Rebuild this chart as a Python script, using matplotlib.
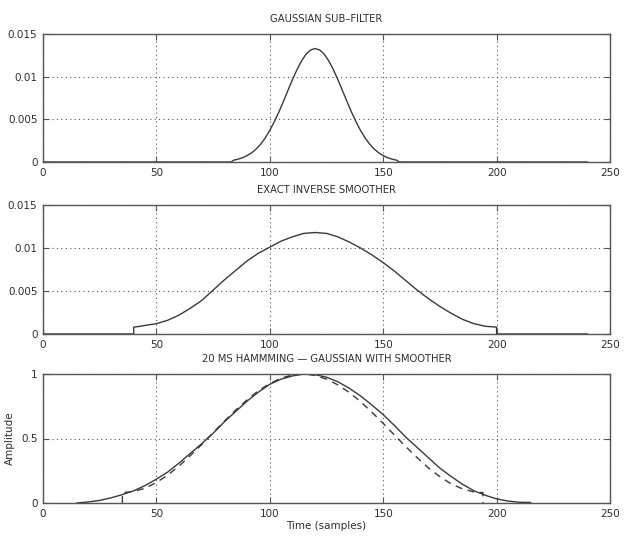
import matplotlib
matplotlib.use("Agg")
import matplotlib.pyplot as plt

# ---- data ----
gauss_x = [0, 83, 84, 86, 88, 90, 92, 94, 96, 98, 100, 102, 104, 106, 108, 110, 112, 114,
           116, 118, 120, 122, 124, 126, 128, 130, 132, 134, 136, 138, 140, 142, 144, 146,
           148, 150, 152, 154, 156, 157, 240]
gauss_y = [0, 0, 0.00021, 0.00033, 0.00050, 0.00075, 0.00108, 0.00153, 0.00210, 0.00283,
           0.00370, 0.00472, 0.00586, 0.00710, 0.00839, 0.00966, 0.01084, 0.01185, 0.01264,
           0.01313, 0.0133, 0.01313, 0.01264, 0.01185, 0.01084, 0.00966, 0.00839, 0.00710,
           0.00586, 0.00472, 0.00370, 0.00283, 0.00210, 0.00153, 0.00108, 0.00075, 0.00050,
           0.00033, 0.00021, 0, 0]

inv_x = [0, 40, 40, 43, 45, 50, 55, 60, 65, 70, 75, 80, 85, 90, 95, 100, 105, 110, 115,
         120, 125, 130, 135, 140, 145, 150, 155, 160, 165, 170, 175, 180, 185, 190, 195,
         200, 200, 240]
inv_y = [0, 0, 0.0008, 0.0009, 0.001, 0.0012, 0.0016, 0.0022, 0.003, 0.0039, 0.0051,
         0.0063, 0.0074, 0.0085, 0.0094, 0.0101, 0.0108, 0.0113, 0.0117, 0.0118, 0.0117,
         0.0113, 0.0107, 0.0100, 0.0092, 0.0083, 0.0073, 0.0062, 0.0051, 0.0041, 0.0032,
         0.0024, 0.0017, 0.0012, 0.0009, 0.0008, 0, 0]

smooth_x = [15, 20, 25, 30, 35, 40, 45, 50, 55, 60, 65, 70, 75, 80, 85, 90, 95, 100, 105,
            110, 115, 120, 125, 130, 135, 140, 145, 150, 155, 160, 165, 170, 175, 180,
            185, 190, 195, 200, 205, 210, 215]
smooth_y = [0.0, 0.008, 0.02, 0.04, 0.065, 0.095, 0.135, 0.185, 0.24, 0.31, 0.385, 0.46,
            0.54, 0.63, 0.71, 0.79, 0.86, 0.92, 0.96, 0.985, 1.0, 0.995, 0.975, 0.94,
            0.89, 0.83, 0.76, 0.685, 0.60, 0.51, 0.43, 0.35, 0.27, 0.205, 0.145, 0.095,
            0.06, 0.032, 0.015, 0.006, 0.004]

hamm_x = [35, 35, 40, 45, 50, 55, 60, 65, 70, 75, 80, 85, 90, 95, 100, 105, 110, 115,
          120, 125, 130, 135, 140, 145, 150, 155, 160, 165, 170, 175, 180, 185, 190, 194, 194]
hamm_y = [0, 0.080, 0.089, 0.115, 0.159, 0.216, 0.287, 0.368, 0.454, 0.545, 0.635, 0.721,
          0.800, 0.871, 0.926, 0.968, 0.993, 1.000, 0.989, 0.960, 0.916, 0.857, 0.786,
          0.704, 0.617, 0.526, 0.436, 0.351, 0.271, 0.204, 0.148, 0.109, 0.086, 0.080, 0]

titles = ["GAUSSIAN SUB\u2013FILTER", "EXACT INVERSE SMOOTHER",
          "20 MS HAMMMING \u2014 GAUSSIAN WITH SMOOTHER"]
xticks = [0, 50, 100, 150, 200, 250]
yticks_small = [0, 0.005, 0.01, 0.015]
yticklabels_small = ["0", "0.005", "0.01", "0.015"]
yticks_amp = [0, 0.5, 1]
yticklabels_amp = ["0", "0.5", "1"]

# ---- figure ----
plt.rcParams["font.family"] = ["DejaVu Sans"]
fig = plt.figure(figsize=(6.24, 5.39), dpi=100)
fig.patch.set_facecolor("white")

txt = "#2e2e2e"
line_c = "#3a3a3a"
left, width = 43 / 624, 567 / 624
rects = [
    (left, 1 - 162 / 539, width, 128 / 539),
    (left, 1 - 334 / 539, width, 129 / 539),
    (left, 1 - 503 / 539, width, 129 / 539),
]
axes = [fig.add_axes(r) for r in rects]


def style(ax, yt, ytl, title):
    ax.set_xlim(0, 250)
    ax.set_xticks(xticks)
    ax.set_xticklabels([str(t) for t in xticks])
    ax.set_yticks(yt)
    ax.set_yticklabels(ytl)
    ax.set_ylim(yt[0], yt[-1])
    ax.tick_params(direction="in", top=True, right=True, length=4, width=0.8,
                   colors="#555555", labelcolor=txt, labelsize=7.5, pad=4)
    ax.grid(True, color="#555555", linestyle=(0, (1, 3)), linewidth=0.8)
    for s in ax.spines.values():
        s.set_color("#555555")
        s.set_linewidth(1.0)
    ax.set_title(title, fontsize=7.2, color=txt, pad=9)


axes[0].plot(gauss_x, gauss_y, color=line_c, lw=1.0)
style(axes[0], yticks_small, yticklabels_small, titles[0])

axes[1].plot(inv_x, inv_y, color=line_c, lw=1.0)
style(axes[1], yticks_small, yticklabels_small, titles[1])

axes[2].plot(smooth_x, smooth_y, color=line_c, lw=1.0)
axes[2].plot(hamm_x, hamm_y, color=line_c, lw=1.0, linestyle=(0, (5, 4)))
style(axes[2], yticks_amp, yticklabels_amp, titles[2])
axes[2].set_xlabel("Time (samples)", fontsize=7.5, color=txt, labelpad=2)
axes[2].set_ylabel("Amplitude", fontsize=7.5, color=txt, labelpad=4)

fig.savefig("out.png", dpi=100)
